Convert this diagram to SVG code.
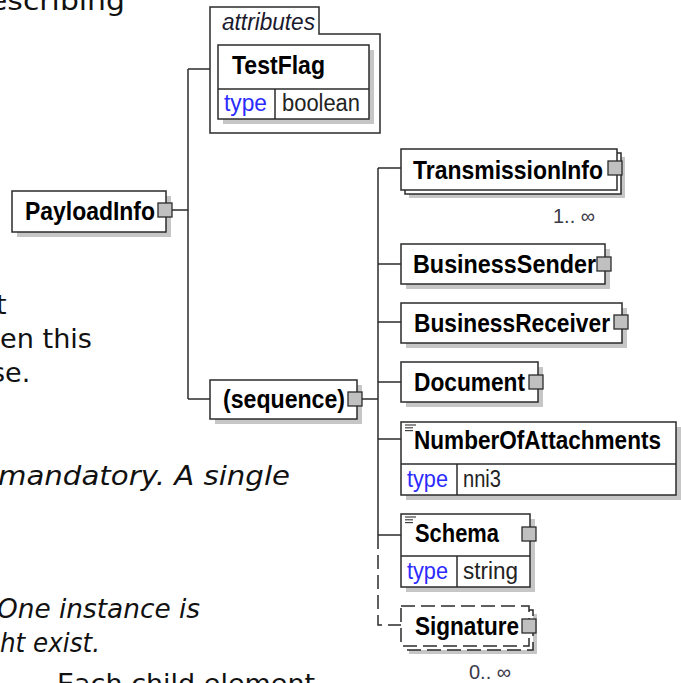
<svg xmlns="http://www.w3.org/2000/svg" width="681" height="683" viewBox="0 0 681 683">
<style>
.doc{font-family:"DejaVu Sans",Verdana,sans-serif;font-size:27px;fill:#111}
.it{font-style:italic}
.box{fill:#fff;stroke:#2b2b2b;stroke-width:1.5}
.dbox{fill:#fff;stroke:#2b2b2b;stroke-width:1.5;stroke-dasharray:14,6}
.sh{fill:#c6c6c6}
.sq{fill:#c0c0c0;stroke:#2b2b2b;stroke-width:1.3}
.nm{font-family:"Liberation Sans",Arial,sans-serif;font-weight:bold;font-size:25px;fill:#000}
.ty{font-family:"Liberation Sans",Arial,sans-serif;font-size:23px;fill:#2b2bff}
.tv{font-family:"Liberation Sans",Arial,sans-serif;font-size:23px;fill:#222}
.mul{font-family:"Liberation Sans",Arial,sans-serif;font-size:20px;fill:#3a3a48}
.ln{stroke:#2b2b2b;stroke-width:1.5;fill:none}
.dl{stroke:#2b2b2b;stroke-width:1.5;fill:none;stroke-dasharray:14,6}
.ic{stroke:#444;stroke-width:1.2}
</style>
<rect width="681" height="683" fill="#fff"/>
<g id="background-text">
<text class="doc" x="-11" y="10" textLength="136" lengthAdjust="spacingAndGlyphs">escribing</text>
<text class="doc" x="-4" y="314">t</text>
<text class="doc" x="0" y="348" textLength="92" lengthAdjust="spacingAndGlyphs">en this</text>
<text class="doc" x="-9" y="382">se.</text>
<text class="doc it" x="-2" y="485" textLength="292" lengthAdjust="spacingAndGlyphs">mandatory. A single</text>
<text class="doc it" x="-3" y="618" textLength="203" lengthAdjust="spacingAndGlyphs">One instance is</text>
<text class="doc it" x="0" y="652" textLength="100" lengthAdjust="spacingAndGlyphs">ht exist.</text>
<text class="doc" x="57" y="693">Each child element</text>
</g>
<g id="connectors">
<line class="ln" x1="172" y1="210" x2="188" y2="210"/>
<line class="ln" x1="188" y1="69" x2="188" y2="399"/>
<line class="ln" x1="188" y1="69" x2="210" y2="69"/>
<line class="ln" x1="188" y1="399" x2="210" y2="399"/>
<line class="ln" x1="362" y1="399" x2="378" y2="399"/>
<line class="ln" x1="378" y1="168" x2="378" y2="535"/>
<line class="ln" x1="378" y1="168" x2="401" y2="168"/>
<line class="ln" x1="378" y1="264" x2="401" y2="264"/>
<line class="ln" x1="378" y1="322" x2="401" y2="322"/>
<line class="ln" x1="378" y1="382" x2="401" y2="382"/>
<line class="ln" x1="378" y1="439" x2="401" y2="439"/>
<line class="ln" x1="378" y1="535" x2="401" y2="535"/>
<path class="dl" d="M378,535 V625 H401"/>
</g>
<g id="attributes">
<path class="box" d="M210,133 V7 H319 V34 H380 V133 Z"/>
<text x="222" y="30" font-family="Liberation Sans,Arial,sans-serif" font-style="italic" font-size="23" fill="#1a1a2e" textLength="93" lengthAdjust="spacingAndGlyphs">attributes</text>
</g>
<g id="TestFlag">
<rect class="sh" x="223" y="50" width="151" height="74"/>
<rect class="box" x="218" y="45" width="151" height="74"/>
<line class="ln" x1="218" y1="89" x2="369" y2="89"/>
<line class="ln" x1="275" y1="89" x2="275" y2="119"/>
<text class="nm" x="232" y="74" textLength="93" lengthAdjust="spacingAndGlyphs">TestFlag</text>
<text class="ty" x="224" y="111" textLength="43" lengthAdjust="spacingAndGlyphs">type</text>
<text class="tv" x="282" y="111" textLength="78" lengthAdjust="spacingAndGlyphs">boolean</text>
</g>
<g id="PayloadInfo">
<rect class="sh" x="17" y="196" width="154" height="41"/>
<rect class="box" x="12" y="191" width="154" height="41"/>
<text class="nm" x="25" y="220" textLength="130" lengthAdjust="spacingAndGlyphs">PayloadInfo</text>
<rect class="sq" x="158" y="203" width="14" height="14"/>
</g>
<g id="sequence">
<rect class="sh" x="215" y="385" width="147" height="39"/>
<rect class="box" x="210" y="380" width="147" height="39"/>
<text class="nm" x="223" y="408" textLength="122" lengthAdjust="spacingAndGlyphs">(sequence)</text>
<rect class="sq" x="348" y="392" width="14" height="14"/>
</g>
<g id="TransmissionInfo">
<rect class="sh" x="409" y="157" width="216" height="41"/>
<rect class="box" x="405" y="153" width="216" height="41"/>
<rect class="box" x="401" y="149" width="216" height="41"/>
<text class="nm" x="413" y="179" textLength="190" lengthAdjust="spacingAndGlyphs">TransmissionInfo</text>
<rect class="sq" x="608" y="161" width="14" height="14"/>
<text class="mul" x="553" y="223">1.. ∞</text>
</g>
<g id="BusinessSender">
<rect class="sh" x="406" y="249" width="204" height="40"/>
<rect class="box" x="401" y="244" width="204" height="40"/>
<text class="nm" x="413" y="273" textLength="183" lengthAdjust="spacingAndGlyphs">BusinessSender</text>
<rect class="sq" x="597" y="257" width="14" height="14"/>
</g>
<g id="BusinessReceiver">
<rect class="sh" x="406" y="308" width="221" height="40"/>
<rect class="box" x="401" y="303" width="221" height="40"/>
<text class="nm" x="414" y="332" textLength="196" lengthAdjust="spacingAndGlyphs">BusinessReceiver</text>
<rect class="sq" x="614" y="315" width="14" height="14"/>
</g>
<g id="Document">
<rect class="sh" x="406" y="367" width="137" height="40"/>
<rect class="box" x="401" y="362" width="137" height="40"/>
<text class="nm" x="414" y="391" textLength="111" lengthAdjust="spacingAndGlyphs">Document</text>
<rect class="sq" x="529" y="375" width="14" height="14"/>
</g>
<g id="NumberOfAttachments">
<rect class="sh" x="406" y="427" width="275" height="73"/>
<rect class="box" x="401" y="422" width="275" height="73"/>
<line class="ln" x1="401" y1="464" x2="676" y2="464"/>
<line class="ln" x1="457" y1="464" x2="457" y2="495"/>
<line class="ic" x1="405" y1="425" x2="416" y2="425"/>
<line class="ic" x1="405" y1="427.8" x2="413" y2="427.8"/>
<line class="ic" x1="405" y1="430.6" x2="413" y2="430.6"/>
<text class="nm" x="414" y="449" textLength="247" lengthAdjust="spacingAndGlyphs">NumberOfAttachments</text>
<text class="ty" x="407" y="487" textLength="41" lengthAdjust="spacingAndGlyphs">type</text>
<text class="tv" x="463" y="487" textLength="38" lengthAdjust="spacingAndGlyphs">nni3</text>
</g>
<g id="Schema">
<rect class="sh" x="406" y="519" width="129" height="73"/>
<rect class="box" x="401" y="514" width="129" height="73"/>
<line class="ln" x1="401" y1="556" x2="530" y2="556"/>
<line class="ln" x1="457" y1="556" x2="457" y2="587"/>
<line class="ic" x1="405" y1="517" x2="416" y2="517"/>
<line class="ic" x1="405" y1="519.8" x2="413" y2="519.8"/>
<line class="ic" x1="405" y1="522.6" x2="413" y2="522.6"/>
<text class="nm" x="415" y="542" textLength="84" lengthAdjust="spacingAndGlyphs">Schema</text>
<text class="ty" x="407" y="579" textLength="41" lengthAdjust="spacingAndGlyphs">type</text>
<text class="tv" x="463" y="579" textLength="55" lengthAdjust="spacingAndGlyphs">string</text>
<rect class="sq" x="522" y="527" width="14" height="14"/>
</g>
<g id="Signature">
<rect class="sh" x="409" y="614" width="128" height="40"/>
<rect class="dbox" x="405" y="610" width="128" height="40"/>
<rect class="dbox" x="401" y="606" width="128" height="40"/>
<text class="nm" x="415" y="635" textLength="104" lengthAdjust="spacingAndGlyphs">Signature</text>
<rect class="sq" x="522" y="619" width="14" height="14"/>
<text class="mul" x="469" y="679">0.. ∞</text>
</g>
</svg>
